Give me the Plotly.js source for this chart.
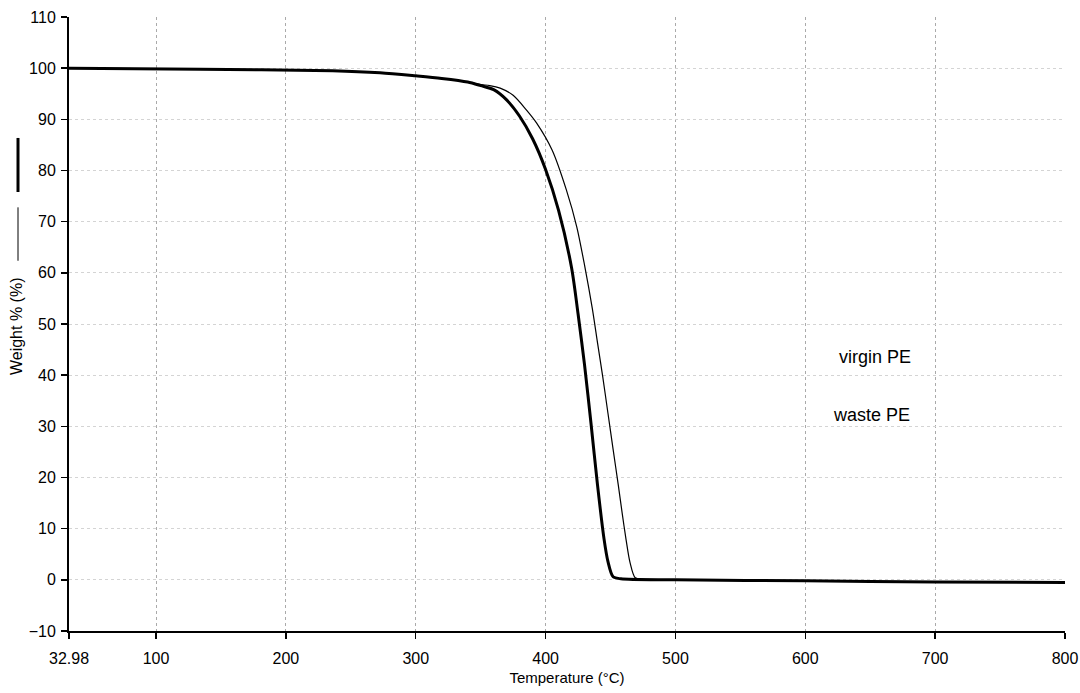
<!DOCTYPE html>
<html>
<head>
<meta charset="utf-8">
<script src="https://cdn.plot.ly/plotly-3.0.1.min.js"></script>
<style>html,body{margin:0;padding:0;background:#fff;}#chart{width:1080px;height:693px;}</style>
</head>
<body>
<div id="chart"></div>
<script>
// Waste PE (thick curve, degrades first)
const wasteT = [32.98, 134, 236, 272.5, 300, 320, 340, 350, 360, 370, 380, 390, 400, 410, 420, 425, 430, 435, 440, 445, 448, 452, 458, 500, 600, 700, 800];
const wasteW = [100, 99.8, 99.5, 99.1, 98.5, 98.0, 97.3, 96.6, 95.8, 93.8, 90.6, 86.2, 80.2, 72.2, 61.0, 52.0, 42.0, 30.5, 18.5, 8.0, 3.6, 0.6, 0.2, 0.0, -0.2, -0.4, -0.5];
// Virgin PE (thin curve)
const virginT = [32.98, 134, 236, 272.5, 300, 320, 340, 350, 357, 365, 375, 385, 393, 405, 416, 424, 430, 436, 440, 444, 448, 452, 456, 459, 462, 465, 469, 475, 500, 600, 700, 800];
const virginW = [100, 99.8, 99.5, 99.1, 98.5, 98.0, 97.3, 96.8, 96.6, 96.1, 94.7, 91.9, 89.3, 84.0, 76.2, 69.0, 61.5, 53.0, 46.3, 39.7, 32.6, 25.5, 18.5, 13.0, 7.8, 3.4, 0.4, 0.1, 0.0, -0.2, -0.4, -0.5];

const xTickVals = [32.98, 100, 200, 300, 400, 500, 600, 700, 800];
const xTickText = ['32.98', '100', '200', '300', '400', '500', '600', '700', '800'];
const yTickVals = [-10, 0, 10, 20, 30, 40, 50, 60, 70, 80, 90, 100, 110];

const traces = [
  {x: virginT, y: virginW, mode: 'lines', name: 'virgin PE', line: {color: '#000', width: 1.2, shape: 'spline', smoothing: 0.8}},
  {x: wasteT, y: wasteW, mode: 'lines', name: 'waste PE', line: {color: '#000', width: 3, shape: 'spline', smoothing: 0.8}}
];

const fontFam = 'Liberation Sans, Arial, sans-serif';
const layout = {
  width: 1080, height: 693,
  margin: {l: 69, r: 15, t: 17, b: 62},
  paper_bgcolor: '#fff', plot_bgcolor: '#fff',
  showlegend: false,
  font: {family: fontFam, size: 15, color: '#000'},
  xaxis: {
    range: [32.98, 800], tickvals: xTickVals, ticktext: xTickText,
    showline: true, linecolor: '#000', linewidth: 2, mirror: false,
    ticks: 'outside', ticklen: 6, tickwidth: 1.5, tickcolor: '#000',
    showgrid: true, gridcolor: '#aaa', griddash: 'dot', gridwidth: 1,
    zeroline: false, tickfont: {size: 16, family: fontFam}, ticklabelstandoff: 6,
    title: {text: 'Temperature (°C)', font: {size: 15, family: fontFam}, standoff: 6}
  },
  yaxis: {
    range: [-10, 110], tickvals: yTickVals,
    showline: true, linecolor: '#000', linewidth: 2,
    ticks: 'outside', ticklen: 6, tickwidth: 1.5, tickcolor: '#000',
    showgrid: true, gridcolor: '#d4d4d4', griddash: 'dot', gridwidth: 1,
    zeroline: false, tickfont: {size: 16, family: fontFam}, ticklabelstandoff: 2
  },
  annotations: [
    {text: 'Weight % (%)', xref: 'paper', yref: 'paper', x: -0.052, y: 0.497, textangle: -90,
     showarrow: false, xanchor: 'center', yanchor: 'middle', font: {size: 16, family: fontFam}},
    {text: 'virgin PE', xref: 'x', yref: 'y', x: 654, y: 43.6, showarrow: false,
     font: {size: 18, family: fontFam}},
    {text: 'waste PE', xref: 'x', yref: 'y', x: 651, y: 32.2, showarrow: false,
     font: {size: 18, family: fontFam}}
  ],
  shapes: [
    {type: 'line', xref: 'paper', yref: 'paper', x0: -0.0512, x1: -0.0512, y0: 0.803, y1: 0.715,
     line: {color: '#000', width: 3}},
    {type: 'line', xref: 'paper', yref: 'paper', x0: -0.0512, x1: -0.0512, y0: 0.69, y1: 0.603,
     line: {color: '#000', width: 1}}
  ]
};

Plotly.newPlot('chart', traces, layout, {displayModeBar: false, staticPlot: true});
</script>
</body>
</html>
